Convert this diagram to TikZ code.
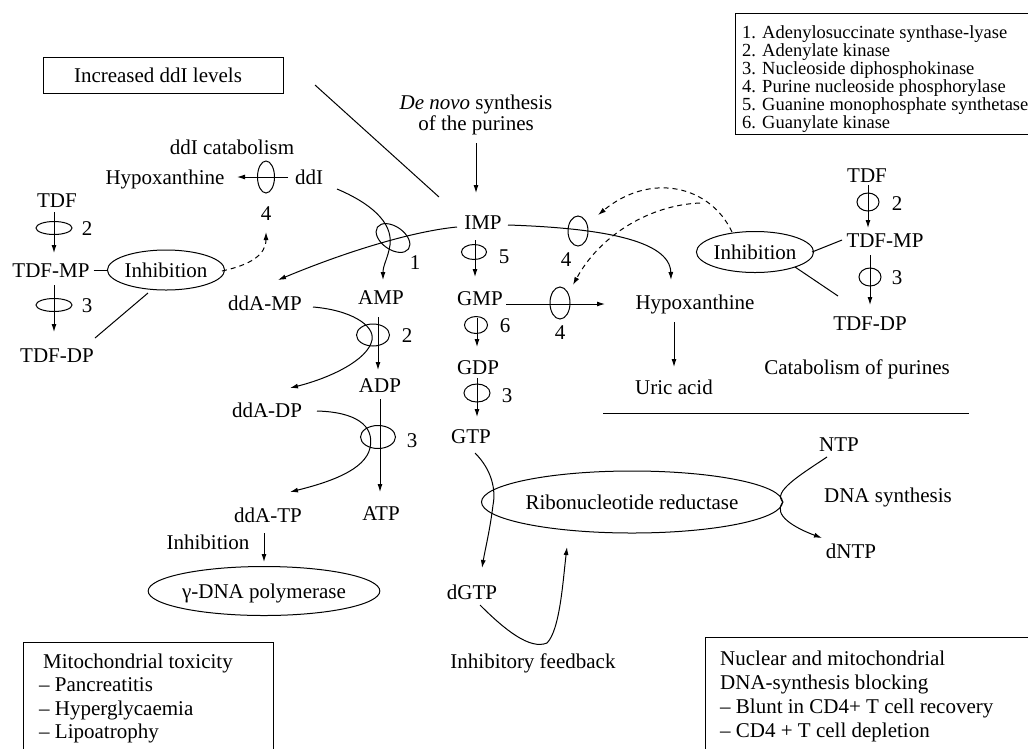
\documentclass[tikz,border=0pt]{standalone}
\usepackage{fontspec}
\setmainfont{Liberation Serif}
\usetikzlibrary{shapes.geometric,arrows.meta}
\begin{document}
\begin{tikzpicture}[x=1pt,y=-1pt,
  every node/.style={font=\fontsize{21}{24}\selectfont, inner sep=0pt, text height=14pt, text depth=0pt},
  small/.style={font=\fontsize{18.5}{18}\selectfont, text height=12pt},
  enz/.style={draw, ellipse, inner sep=0pt, line width=1pt, text height=0pt, text depth=0pt},
  oval/.style={draw, ellipse, line width=1pt, inner sep=0pt},
  conn/.style={line width=1pt},
  arr/.style={conn, -{Latex[length=8pt,width=5pt]}},
  dashline/.style={conn, dash pattern=on 5pt off 4pt, -{Latex[length=8pt,width=5pt]}},
  boxline/.style={draw, line width=1pt}
]
\fill[white] (0,0) rectangle (1028,748);
\path[use as bounding box] (0,0) rectangle (1028,748);

% ---------- boxes ----------
\draw[boxline] (43,57) rectangle (283,93);
\node (incr) at (158,75) {Increased ddI levels};

\draw[boxline] (1040,13) -- (735,13) -- (735,134) -- (1040,134);
\node[small, anchor=base west] (l1) at (742,38) {1. Adenylosuccinate synthase-lyase};
\node[small, anchor=base west] (l2) at (742,56) {2. Adenylate kinase};
\node[small, anchor=base west] (l3) at (742,74) {3. Nucleoside diphosphokinase};
\node[small, anchor=base west] (l4) at (742,92) {4. Purine nucleoside phosphorylase};
\node[small, anchor=base west] (l5) at (742,110) {5. Guanine monophosphate synthetase};
\node[small, anchor=base west] (l6) at (742,128) {6. Guanylate kinase};

\draw[boxline] (23,760) -- (23,642) -- (273,642) -- (273,760);
\node[anchor=base west] (m1) at (43,668) {Mitochondrial toxicity};
\node[anchor=base west] (m2) at (39,691.5) {– Pancreatitis};
\node[anchor=base west] (m3) at (39,715) {– Hyperglycaemia};
\node[anchor=base west] (m4) at (39,738.5) {– Lipoatrophy};

\draw[boxline] (705,760) -- (705,637) -- (1040,637);
\node[anchor=base west] (n1) at (720,665) {Nuclear and mitochondrial};
\node[anchor=base west] (n2) at (720,689) {DNA-synthesis blocking};
\node[anchor=base west] (n3) at (720,713) {– Blunt in CD4+ T cell recovery};
\node[anchor=base west] (n4) at (720,737) {– CD4 + T cell depletion};

% ---------- central column ----------
\node (dn1) at (476,102) {\textit{De novo} synthesis};
\node (dn2) at (476,123) {of the purines};
\node (imp) at (483,222) {IMP};
\node (gmp) at (480,298) {GMP};
\node (gdp) at (478,367) {GDP};
\node (gtp) at (471,436) {GTP};
\node (dgtp) at (472,592) {dGTP};
\node (amp) at (381,297) {AMP};
\node (adp) at (380,385) {ADP};
\node (atp) at (381,513) {ATP};
\node (ddamp) at (265,303) {ddA-MP};
\node (ddadp) at (267,410) {ddA-DP};
\node (ddatp) at (268,515) {ddA-TP};
\node (inh3) at (208,542) {Inhibition};
\node[oval, minimum width=205pt, minimum height=49pt] (gpol) at (264,591) {γ-DNA polymerase};

% labels of enzymes
\node (n1l) at (415,262) {1};
\node (n5) at (504,256) {5};
\node (n6) at (505,325) {6};
\node (n3g) at (507,395) {3};
\node (n2a) at (407,335) {2};
\node (n3a) at (412,440) {3};

% ---------- left part ----------
\node (ddicat) at (232,147) {ddI catabolism};
\node (hypl) at (165,177) {Hypoxanthine};
\node (ddi) at (309,177) {ddI};
\node (n4l) at (266,213) {4};
\node (tdfl) at (57,200) {TDF};
\node (n2l) at (87,228) {2};
\node (tdfmpl) at (51,270) {TDF-MP};
\node[oval, minimum width=110pt, minimum height=40pt] (inhl) at (166,270) {Inhibition};
\node (n3l) at (87,305) {3};
\node (tdfdpl) at (57,355) {TDF-DP};

% ---------- right part ----------
\node (n4a) at (566,259) {4};
\node (n4b) at (560,332) {4};
\node (hypr) at (695,302) {Hypoxanthine};
\node (uric) at (674,387) {Uric acid};
\node[oval, minimum width=114pt, minimum height=41pt] (inhr) at (755,252) {Inhibition};
\node (tdfr) at (867,175) {TDF};
\node (n2r) at (897,203) {2};
\node (tdfmpr) at (885,240) {TDF-MP};
\node (n3r) at (897,277) {3};
\node (tdfdpr) at (870,323) {TDF-DP};
\node (catab) at (857,367) {Catabolism of purines};
\coordinate (hl1) at (603,413);
\coordinate (hl2) at (969,413);
\draw[conn] (hl1) -- (hl2);

\node[oval, minimum width=278pt, minimum height=62pt] (rnr) at (632,502) {Ribonucleotide reductase};
\node (ntp) at (839,444) {NTP};
\node (dnas) at (888,495) {DNA synthesis};
\node (dntp) at (851,551) {dNTP};
\node (feed) at (533,661) {Inhibitory feedback};

% ---------- enzyme ellipses ----------
\node[enz, minimum width=17pt, minimum height=32pt] (e4l) at (266,177) {};
\node[enz, minimum width=36pt, minimum height=13pt] (e2l) at (54,228) {};
\node[enz, minimum width=36pt, minimum height=13pt] (e3l) at (54,305) {};
\node[enz, minimum width=38pt, minimum height=23pt, rotate=-35] (e1) at (393,238) {};
\node[enz, minimum width=25pt, minimum height=15pt] (e5) at (474,252) {};
\node[enz, minimum width=33pt, minimum height=22pt] (e2a) at (373,335) {};
\node[enz, minimum width=23pt, minimum height=17pt] (e6) at (476,325) {};
\node[enz, minimum width=26pt, minimum height=18pt] (e3g) at (477,393) {};
\node[enz, minimum width=35pt, minimum height=23pt] (e3a) at (378,437) {};
\node[enz, minimum width=20pt, minimum height=30pt] (e4a) at (578,231) {};
\node[enz, minimum width=20pt, minimum height=32pt] (e4b) at (560,303) {};
\node[enz, minimum width=22pt, minimum height=18pt] (e2r) at (868,202) {};
\node[enz, minimum width=22pt, minimum height=18pt] (e3r) at (870,277) {};

% ---------- connectors ----------
\coordinate (dg1) at (315,85); \coordinate (dg2) at (439,197);
\draw[conn] (dg1) -- (dg2);

\coordinate (dna) at (476,143); \coordinate (impt) at (476,193);
\draw[arr] (dna) -- (impt);

\coordinate (ddiw) at (288,177); \coordinate (hyple) at (237,177);
\draw[arr] (ddiw) -- (hyple);

\coordinate (a1) at (54,212); \coordinate (a2) at (54,253);
\draw[arr] (a1) -- (a2);
\coordinate (a3) at (54,285); \coordinate (a4) at (54,332);
\draw[arr] (a3) -- (a4);
\draw[conn] (tdfmpl.east) ++(4,0) -- (inhl.west);
\coordinate (i1) at (148,293); \coordinate (i2) at (95,338);
\draw[conn] (i1) -- (i2);
\coordinate (d1) at (222,271); \coordinate (d2) at (266,232);
\draw[dashline] (d1) .. controls (250,265) and (266,255) .. (d2);

% ddI -> AMP through enzyme 1
\coordinate (ddis) at (337,189); \coordinate (ampt) at (383,280);
\draw[arr] (ddis) .. controls (370,203) and (393,222) .. (390,245) .. controls (388,258) and (383,265) .. (ampt);
% IMP -> ddA-MP
\coordinate (impw) at (457,227); \coordinate (ddampt) at (278,280);
\draw[arr] (impw) .. controls (415,231) and (350,250) .. (ddampt);

% AMP -> ADP -> ATP
\coordinate (b1) at (378,317); \coordinate (b2) at (378,370);
\draw[arr] (b1) -- (b2);
\coordinate (b3) at (380,399); \coordinate (b4) at (380,492);
\draw[arr] (b3) -- (b4);
% ddA chain
\coordinate (c1) at (313,307); \coordinate (c2) at (290,388);
\draw[arr] (c1) .. controls (350,310) and (375,325) .. (372,340) .. controls (368,360) and (330,378) .. (c2);
\coordinate (c3) at (317,411); \coordinate (c4) at (290,492);
\draw[arr] (c3) .. controls (355,412) and (375,425) .. (370,448) .. controls (365,470) and (330,482) .. (c4);
\coordinate (g1) at (264,533); \coordinate (g2) at (264,562);
\draw[arr] (g1) -- (g2);

% IMP -> GMP -> GDP -> GTP
\coordinate (f1) at (475,240); \coordinate (f2) at (475,277);
\draw[arr] (f1) -- (f2);
\coordinate (f3) at (477,318); \coordinate (f4) at (477,347);
\draw[arr] (f3) -- (f4);
\coordinate (f5) at (477,378); \coordinate (f6) at (477,417);
\draw[arr] (f5) -- (f6);

% GTP -> dGTP
\coordinate (h1) at (475,453); \coordinate (h2) at (482,568);
\draw[arr] (h1) .. controls (492,470) and (496,490) .. (493,505) .. controls (490,530) and (485,550) .. (h2);
% feedback
\coordinate (k1) at (480,605); \coordinate (k2) at (567,547);
\draw[arr] (k1) .. controls (505,630) and (530,650) .. (547,643) .. controls (560,630) and (563,580) .. (k2);
% NTP -> dNTP
\coordinate (p1) at (827,457); \coordinate (p2) at (822,538);
\draw[arr] (p1) .. controls (800,475) and (772,492) .. (rnr.east) .. controls (772,515) and (795,528) .. (p2);

% IMP -> Hypoxanthine (right)
\coordinate (q1) at (508,225); \coordinate (q2) at (671,280);
\draw[arr] (q1) .. controls (600,228) and (670,240) .. (q2);
\coordinate (q3) at (506,304); \coordinate (q4) at (605,304);
\draw[arr] (q3) -- (q4);
\coordinate (u1) at (674,322); \coordinate (u2) at (674,367);
\draw[arr] (u1) -- (u2);

% dashed from right inhibition
\coordinate (r1) at (732,232); \coordinate (r2) at (598,215);
\draw[dashline] (r1) .. controls (710,185) and (650,172) .. (r2);
\coordinate (r3) at (700,203); \coordinate (r4) at (573,285);
\draw[dashline] (r3) .. controls (650,205) and (600,235) .. (r4);

% right TDF
\coordinate (s1) at (868,185); \coordinate (s2) at (868,228);
\draw[arr] (s1) -- (s2);
\coordinate (s3) at (870,255); \coordinate (s4) at (870,305);
\draw[arr] (s3) -- (s4);
\coordinate (t1) at (842,240); \coordinate (t2) at (812,252);
\draw[conn] (t1) -- (t2);
\coordinate (t3) at (795,267); \coordinate (t4) at (838,296);
\draw[conn] (t3) -- (t4);
\end{tikzpicture}
\end{document}
